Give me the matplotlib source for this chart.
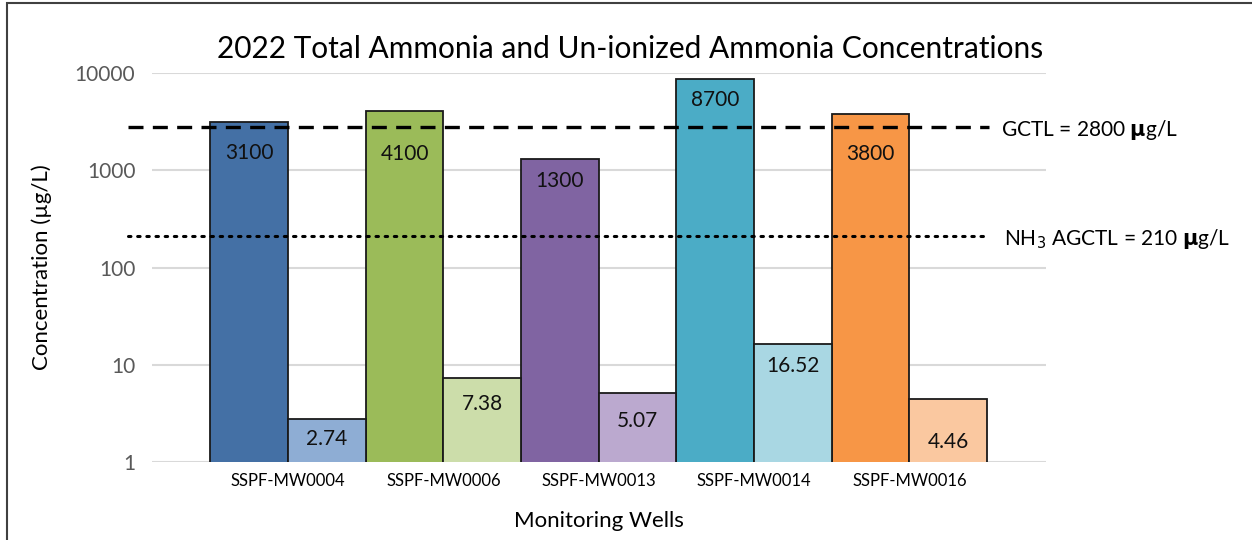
import numpy as np
import matplotlib
matplotlib.use("Agg")
import matplotlib.pyplot as plt
from matplotlib.patches import Rectangle

plt.rcParams['font.family'] = ['Lato', 'DejaVu Sans']

wells = ["SSPF-MW0004", "SSPF-MW0006", "SSPF-MW0013", "SSPF-MW0014", "SSPF-MW0016"]
total_nh3 = [3100, 4100, 1300, 8700, 3800]
unionized_nh3 = [2.74, 7.38, 5.07, 16.52, 4.46]
total_labels = ["3100", "4100", "1300", "8700", "3800"]
unionized_labels = ["2.74", "7.38", "5.07", "16.52", "4.46"]
gctl = 2800
agctl = 210

dark_colors = ["#4470A5", "#9BBB59", "#8064A2", "#4BACC6", "#F79646"]
light_colors = ["#8EADD4", "#CCDDAA", "#BBA9CF", "#A9D7E3", "#FAC8A0"]

# label offsets (points below bar top)
total_off = [-22, -31, -16, -15, -29]
unionized_off = [-14, -19, -20, -16, -31]

fig = plt.figure(figsize=(12.52, 5.4), dpi=100)
ax = fig.add_axes([0.1214, 0.1444, 0.7141, 0.7204])

x = np.arange(len(wells))
w = 0.5
ax.bar(x - w / 2, total_nh3, width=w, color=dark_colors, edgecolor="#1a1a1a",
       linewidth=1.3, zorder=3)
ax.bar(x + w / 2, unionized_nh3, width=w, color=light_colors, edgecolor="#1a1a1a",
       linewidth=1.3, zorder=3)

for i in range(len(wells)):
    ax.annotate(total_labels[i], (x[i] - w / 2, total_nh3[i]), xytext=(0, total_off[i]),
                textcoords="offset points", ha="center", va="center", fontsize=15,
                color="#111111", zorder=5)
    ax.annotate(unionized_labels[i], (x[i] + w / 2, unionized_nh3[i]),
                xytext=(0, unionized_off[i]), textcoords="offset points",
                ha="center", va="center", fontsize=15, color="#111111", zorder=5)

ax.set_yscale("log")
ax.set_ylim(1, 10000)
ax.set_xlim(-0.876, 4.88)
ax.set_yticks([1, 10, 100, 1000, 10000])
ax.set_yticklabels(["1", "10", "100", "1000", "10000"])
ax.minorticks_off()
ax.yaxis.grid(True, color="#D9D9D9", linewidth=1.5, zorder=0)
ax.set_axisbelow(True)
ax.tick_params(axis="y", length=0, labelsize=15, labelcolor="#595959", pad=12)
ax.set_xticks(x)
ax.set_xticklabels(wells, fontsize=12)
ax.tick_params(axis="x", length=0, pad=8)
for s in ax.spines.values():
    s.set_visible(False)

ax.plot([-1.03, 4.51], [gctl, gctl], color="black", linestyle=(0, (4.5, 2.8)),
        linewidth=2.4, clip_on=False, zorder=4)
ax.plot([-1.03, 4.51], [agctl, agctl], color="black", linestyle=(0, (0.8, 2.2)),
        linewidth=2.2, clip_on=False, zorder=4, dash_capstyle="round")

ax.text(4.59, gctl * 0.93, "GCTL = 2800 $\\mathbf{\\mu}$g/L", fontsize=15,
        va="center", ha="left")
ax.text(4.61, agctl * 0.93, "NH$_3$ AGCTL = 210 $\\mathbf{\\mu}$g/L", fontsize=15,
        va="center", ha="left")

ax.set_title("2022 Total Ammonia and Un-ionized Ammonia Concentrations", fontsize=21.5,
             x=0.535, pad=11)
ax.set_ylabel("Concentration (µg/L)", fontsize=16, labelpad=16)
ax.set_xlabel("Monitoring Wells", fontsize=16, labelpad=16)

fig.patches.append(Rectangle((7 / 1252, -0.1), 1.2, 1.1 - 3 / 540, transform=fig.transFigure,
                             fill=False, edgecolor="#404040", linewidth=1.5))

fig.savefig("out.png", dpi=100)
